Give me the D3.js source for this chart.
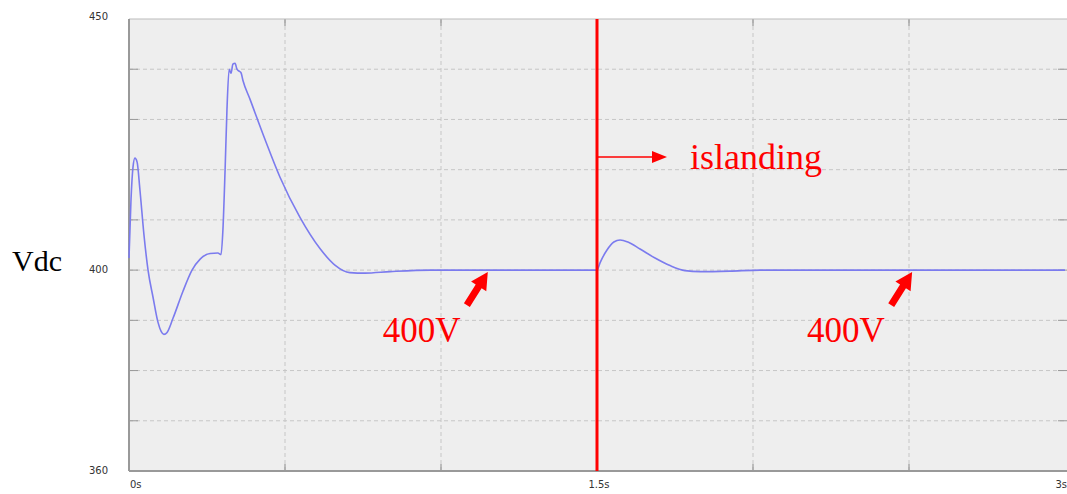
<!DOCTYPE html>
<html>
<head>
<meta charset="UTF-8" />
<script src="https://d3js.org/d3.v7.min.js"></script>
<style>
  body { margin: 0; background: #fff; }
  svg { display: block; }
  .tick-label { font-family: "DejaVu Sans", sans-serif; font-size: 10px; fill: #333; }
  .serif { font-family: "Liberation Serif", "Times New Roman", serif; }
</style>
</head>
<body>
<svg width="1067" height="494"></svg>
<script>
// time (s) and Vdc (V)
const timeS = [0, 0.0064, 0.0128, 0.019, 0.026, 0.035, 0.048, 0.061, 0.077, 0.093, 0.103, 0.112, 0.122,
  0.141, 0.173, 0.202, 0.228, 0.260, 0.285, 0.295, 0.301, 0.308, 0.314, 0.321, 0.327, 0.333, 0.340,
  0.346, 0.353, 0.359, 0.365, 0.388, 0.436, 0.484, 0.548, 0.612, 0.660, 0.708, 0.756, 0.837, 0.965,
  1.5, 1.51, 1.532, 1.554, 1.574, 1.599, 1.638, 1.686, 1.734, 1.782, 1.830, 1.926, 2.022, 3.0];
const vdc = [402.4, 414, 420.5, 422.3, 421.5, 416, 407, 400, 394.6, 389.6, 387.8, 387.2, 387.6,
  390.4, 395.8, 400, 402.2, 403.3, 403.4, 403.1, 408, 420, 432, 440, 439.2, 441, 441.2,
  440, 439.6, 439.3, 437.8, 434, 426, 418.5, 410.5, 404.3, 401, 399.5, 399.4, 399.7, 400,
  400, 401.5, 404, 405.6, 406, 405.6, 404.2, 402.4, 400.9, 399.9, 399.7, 399.8, 400, 400];

const yTicks = [360, 400, 450];
const yGrid = [370, 380, 390, 400, 410, 420, 430, 440];
const xTicks = [0, 1.5, 3];
const xTickLabels = ["0s", "1.5s", "3s"];
const xGrid = [0.5, 1, 1.5, 2, 2.5];
const islandingTime = 1.5;
const markerTimes = [1.15, 2.51];   // where the "400V" arrows point
const markerLabel = "400V";

const svg = d3.select("svg");
const pLeft = 129, pRight = 1065, pTop = 19, pBottom = 471;

const x = d3.scaleLinear().domain([0, 3]).range([pLeft, pRight]);
const y = d3.scaleLinear().domain([360, 450]).range([pBottom, pTop]);

// plot background
svg.append("rect")
  .attr("x", pLeft).attr("y", pTop)
  .attr("width", 1067 - pLeft).attr("height", pBottom - pTop)
  .attr("fill", "#eeeeee");

// grid
svg.selectAll(".hgrid").data(yGrid).enter().append("line")
  .attr("x1", pLeft).attr("x2", 1067)
  .attr("y1", d => y(d)).attr("y2", d => y(d))
  .attr("stroke", "#c6c6c6").attr("stroke-dasharray", "4,3");
svg.selectAll(".vgrid").data(xGrid).enter().append("line")
  .attr("x1", d => x(d)).attr("x2", d => x(d))
  .attr("y1", pTop).attr("y2", pBottom)
  .attr("stroke", "#c6c6c6").attr("stroke-dasharray", "4,3");

// small tick marks
svg.selectAll(".ltick").data(yGrid).enter().append("line")
  .attr("x1", pLeft).attr("x2", pLeft + 9)
  .attr("y1", d => y(d)).attr("y2", d => y(d))
  .attr("stroke", "#999");
svg.selectAll(".rtick").data(yGrid).enter().append("line")
  .attr("x1", 1058).attr("x2", 1067)
  .attr("y1", d => y(d)).attr("y2", d => y(d))
  .attr("stroke", "#999");
svg.selectAll(".btick").data(xGrid).enter().append("line")
  .attr("x1", d => x(d)).attr("x2", d => x(d))
  .attr("y1", pBottom).attr("y2", pBottom - 7)
  .attr("stroke", "#888");
svg.selectAll(".ttick").data(xGrid).enter().append("line")
  .attr("x1", d => x(d)).attr("x2", d => x(d))
  .attr("y1", pTop).attr("y2", pTop + 7)
  .attr("stroke", "#888");

// borders
svg.append("line").attr("x1", pLeft).attr("x2", 1067).attr("y1", pTop).attr("y2", pTop)
  .attr("stroke", "#bbb");
svg.append("line").attr("x1", pLeft).attr("x2", pLeft).attr("y1", pTop).attr("y2", pBottom)
  .attr("stroke", "#999").attr("stroke-width", 2);
svg.append("line").attr("x1", pLeft).attr("x2", 1067).attr("y1", pBottom).attr("y2", pBottom)
  .attr("stroke", "#999").attr("stroke-width", 2);

// tick labels
svg.selectAll(".ylab").data(yTicks).enter().append("text")
  .attr("class", "tick-label")
  .attr("x", 108).attr("y", d => y(d) + (d === 450 ? -2 : 0))
  .attr("text-anchor", "end").attr("dominant-baseline", "middle")
  .text(d => d);
svg.selectAll(".xlab").data(xTicks).enter().append("text")
  .attr("class", "tick-label")
  .attr("x", (d, i) => i === 0 ? x(d) + 1 : (i === xTicks.length - 1 ? 1067 : x(d) + 2))
  .attr("y", 488)
  .attr("text-anchor", (d, i) => i === 0 ? "start" : (i === xTicks.length - 1 ? "end" : "middle"))
  .text((d, i) => xTickLabels[i]);

// Vdc curve
const line = d3.line().x((d, i) => x(timeS[i])).y(d => y(d)).curve(d3.curveMonotoneX);
svg.append("path")
  .attr("d", line(vdc))
  .attr("fill", "none")
  .attr("stroke", "#7b7bee")
  .attr("stroke-width", 1.6);

// islanding marker
svg.append("line")
  .attr("x1", x(islandingTime)).attr("x2", x(islandingTime))
  .attr("y1", pTop).attr("y2", pBottom)
  .attr("stroke", "#ff0000").attr("stroke-width", 3);
const ay = 157;
svg.append("line")
  .attr("x1", x(islandingTime)).attr("x2", x(islandingTime) + 58)
  .attr("y1", ay).attr("y2", ay)
  .attr("stroke", "#ff0000").attr("stroke-width", 1.5);
svg.append("path")
  .attr("d", `M${x(islandingTime) + 55},${ay - 6} L${x(islandingTime) + 70},${ay} L${x(islandingTime) + 55},${ay + 6} Z`)
  .attr("fill", "#ff0000");
svg.append("text")
  .attr("class", "serif")
  .attr("x", 690).attr("y", 169)
  .attr("font-size", 36).attr("fill", "#ff0000")
  .text("islanding");

// 400V arrows
markerTimes.forEach(t => {
  const tx = x(t), ty = y(400) + 2;
  const ang = Math.atan2(-33, 21);
  const len = 39, hw = 9, hl = 17, sw = 3.5;
  const ux = Math.cos(ang), uy = Math.sin(ang);
  const px = -uy, py = ux;
  const bx = tx - ux * len, by = ty - uy * len;
  const hx = tx - ux * hl, hy = ty - uy * hl;
  const pts = [
    [bx + px * sw, by + py * sw], [hx + px * sw, hy + py * sw], [hx + px * hw, hy + py * hw],
    [tx, ty],
    [hx - px * hw, hy - py * hw], [hx - px * sw, hy - py * sw], [bx - px * sw, by - py * sw]
  ];
  svg.append("path")
    .attr("d", "M" + pts.map(p => p.join(",")).join("L") + "Z")
    .attr("fill", "#ff0000");
  svg.append("text")
    .attr("class", "serif")
    .attr("x", tx - 105).attr("y", 342)
    .attr("font-size", 35).attr("fill", "#ff0000")
    .text(markerLabel);
});

// y label
svg.append("text")
  .attr("class", "serif")
  .attr("x", 12).attr("y", 271)
  .attr("font-size", 30).attr("fill", "#000")
  .text("Vdc");
</script>
</body>
</html>
